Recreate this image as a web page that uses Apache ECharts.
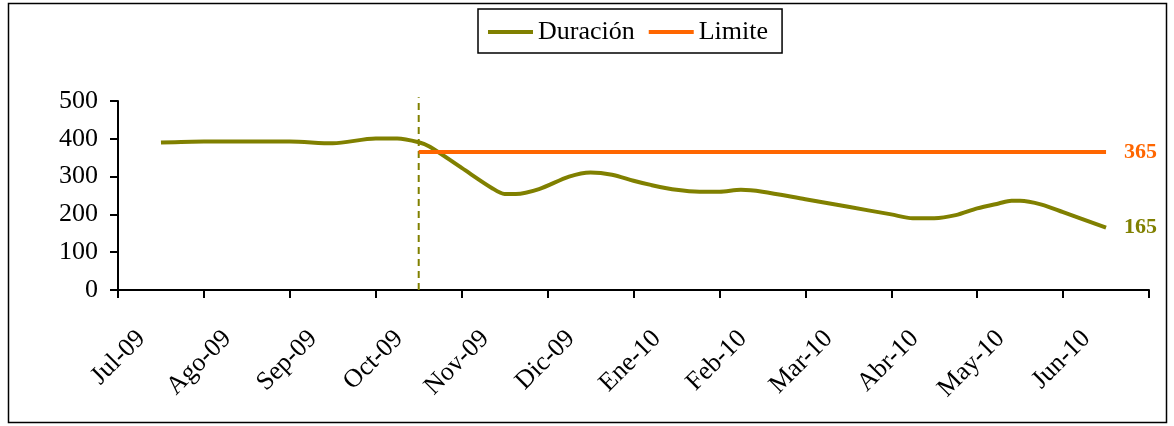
<!DOCTYPE html>
<html>
<head>
<meta charset="utf-8">
<script src="https://cdn.jsdelivr.net/npm/echarts@6/dist/echarts.min.js"></script>
<style>
  html, body { margin: 0; padding: 0; background: #ffffff; }
  #chart { width: 1174px; height: 426px; }
</style>
</head>
<body>
<div id="chart"></div>
<script>
// Month labels along the x axis (one per tick, position = month index)
const months = ['Jul-09', 'Ago-09', 'Sep-09', 'Oct-09', 'Nov-09', 'Dic-09',
                'Ene-10', 'Feb-10', 'Mar-10', 'Abr-10', 'May-10', 'Jun-10'];

// Duración: x in months since Jul-09, y in days
const durX = [0.5, 1.0, 1.5, 2.0, 2.5, 3.0, 3.25, 3.5, 3.63, 4.0, 4.35, 4.5, 4.63, 4.9,
              5.25, 5.5, 5.75, 6.0, 6.2, 6.5, 6.77, 7.0, 7.25, 7.5, 8.0, 8.5, 9.0,
              9.25, 9.5, 9.75, 10.0, 10.25, 10.4, 10.5, 10.75, 11.0, 11.5];
const durY = [390, 393, 393, 393, 388, 401, 401, 391, 379, 323, 270, 254, 254, 267,
              300, 311, 305, 289, 278, 265, 260, 260, 265, 260, 240, 220, 200,
              190, 190, 198, 216, 229, 236, 236, 226, 206, 165];

// Limite: constant 365 days from the cut-off onwards
const limX = [3.5, 11.5];
const limY = [365, 365];

// Vertical cut-off marker
const cutX = [3.5, 3.5];
const cutY = [0, 510];

// Y axis ticks
const yTicks = { min: 0, max: 500, step: 100 };

const zip = (xs, ys) => xs.map((x, i) => [x, ys[i]]);

const FONT = "'Liberation Serif', 'DejaVu Serif', serif";
const OLIVE = '#808000';
const ORANGE = '#ff6600';

const chart = echarts.init(document.getElementById('chart'), null, { renderer: 'canvas' });

chart.setOption({
  animation: false,
  backgroundColor: '#ffffff',
  textStyle: { fontFamily: FONT, color: '#000' },
  graphic: [{
    type: 'rect',
    shape: { x: 8.5, y: 3.5, width: 1158, height: 419 },
    style: { fill: null, stroke: '#000', lineWidth: 1.5 },
    silent: true,
    z: -1
  }],
  legend: {
    data: ['Duración', 'Limite'],
    left: 478,
    top: 9,
    padding: [10, 14, 8, 10],
    itemGap: 14,
    icon: 'rect',
    itemWidth: 45,
    itemHeight: 4,
    borderColor: '#000',
    borderWidth: 1.5,
    backgroundColor: '#fff',
    textStyle: { fontFamily: FONT, fontSize: 26, color: '#000' }
  },
  grid: { left: 118, right: 25, top: 101, bottom: 136, containLabel: false },
  xAxis: {
    type: 'value',
    min: 0,
    max: months.length,
    interval: 1,
    axisLine: { show: true, onZero: false, lineStyle: { color: '#000', width: 2 } },
    axisTick: { show: true, inside: false, length: 8, lineStyle: { color: '#000', width: 2 } },
    splitLine: { show: false },
    axisLabel: {
      rotate: 45,
      margin: 68,
      align: 'right',
      padding: [0, -33, 0, 0],
      fontFamily: FONT,
      fontSize: 26,
      color: '#000',
      showMinLabel: true,
      showMaxLabel: true,
      formatter: function (v) {
        const i = Math.round(v);
        return Math.abs(v - i) < 1e-6 && months[i] ? months[i] : '';
      }
    }
  },
  yAxis: {
    type: 'value',
    min: yTicks.min,
    max: yTicks.max,
    interval: yTicks.step,
    axisLine: { show: true, lineStyle: { color: '#000', width: 2 } },
    axisTick: { show: true, inside: false, length: 8, lineStyle: { color: '#000', width: 2 } },
    splitLine: { show: false },
    axisLabel: { margin: 20, fontFamily: FONT, fontSize: 26, color: '#000' }
  },
  series: [
    {
      name: 'corte',
      type: 'line',
      data: zip(cutX, cutY),
      symbol: 'none',
      clip: false,
      silent: true,
      lineStyle: { color: OLIVE, width: 2, type: [7, 5] },
      z: 1
    },
    {
      name: 'Duración',
      type: 'line',
      data: zip(durX, durY),
      symbol: 'none',
      smooth: 0.3,
      color: OLIVE,
      lineStyle: { color: OLIVE, width: 4 },
      endLabel: {
        show: true,
        distance: 18,
        fontFamily: FONT,
        fontSize: 22,
        fontWeight: 'bold',
        color: OLIVE,
        formatter: p => String(p.value[1])
      },
      z: 2
    },
    {
      name: 'Limite',
      type: 'line',
      data: zip(limX, limY),
      symbol: 'none',
      color: ORANGE,
      lineStyle: { color: ORANGE, width: 4 },
      endLabel: {
        show: true,
        distance: 18,
        fontFamily: FONT,
        fontSize: 22,
        fontWeight: 'bold',
        color: ORANGE,
        formatter: p => String(p.value[1])
      },
      z: 3
    }
  ]
});
</script>
</body>
</html>
